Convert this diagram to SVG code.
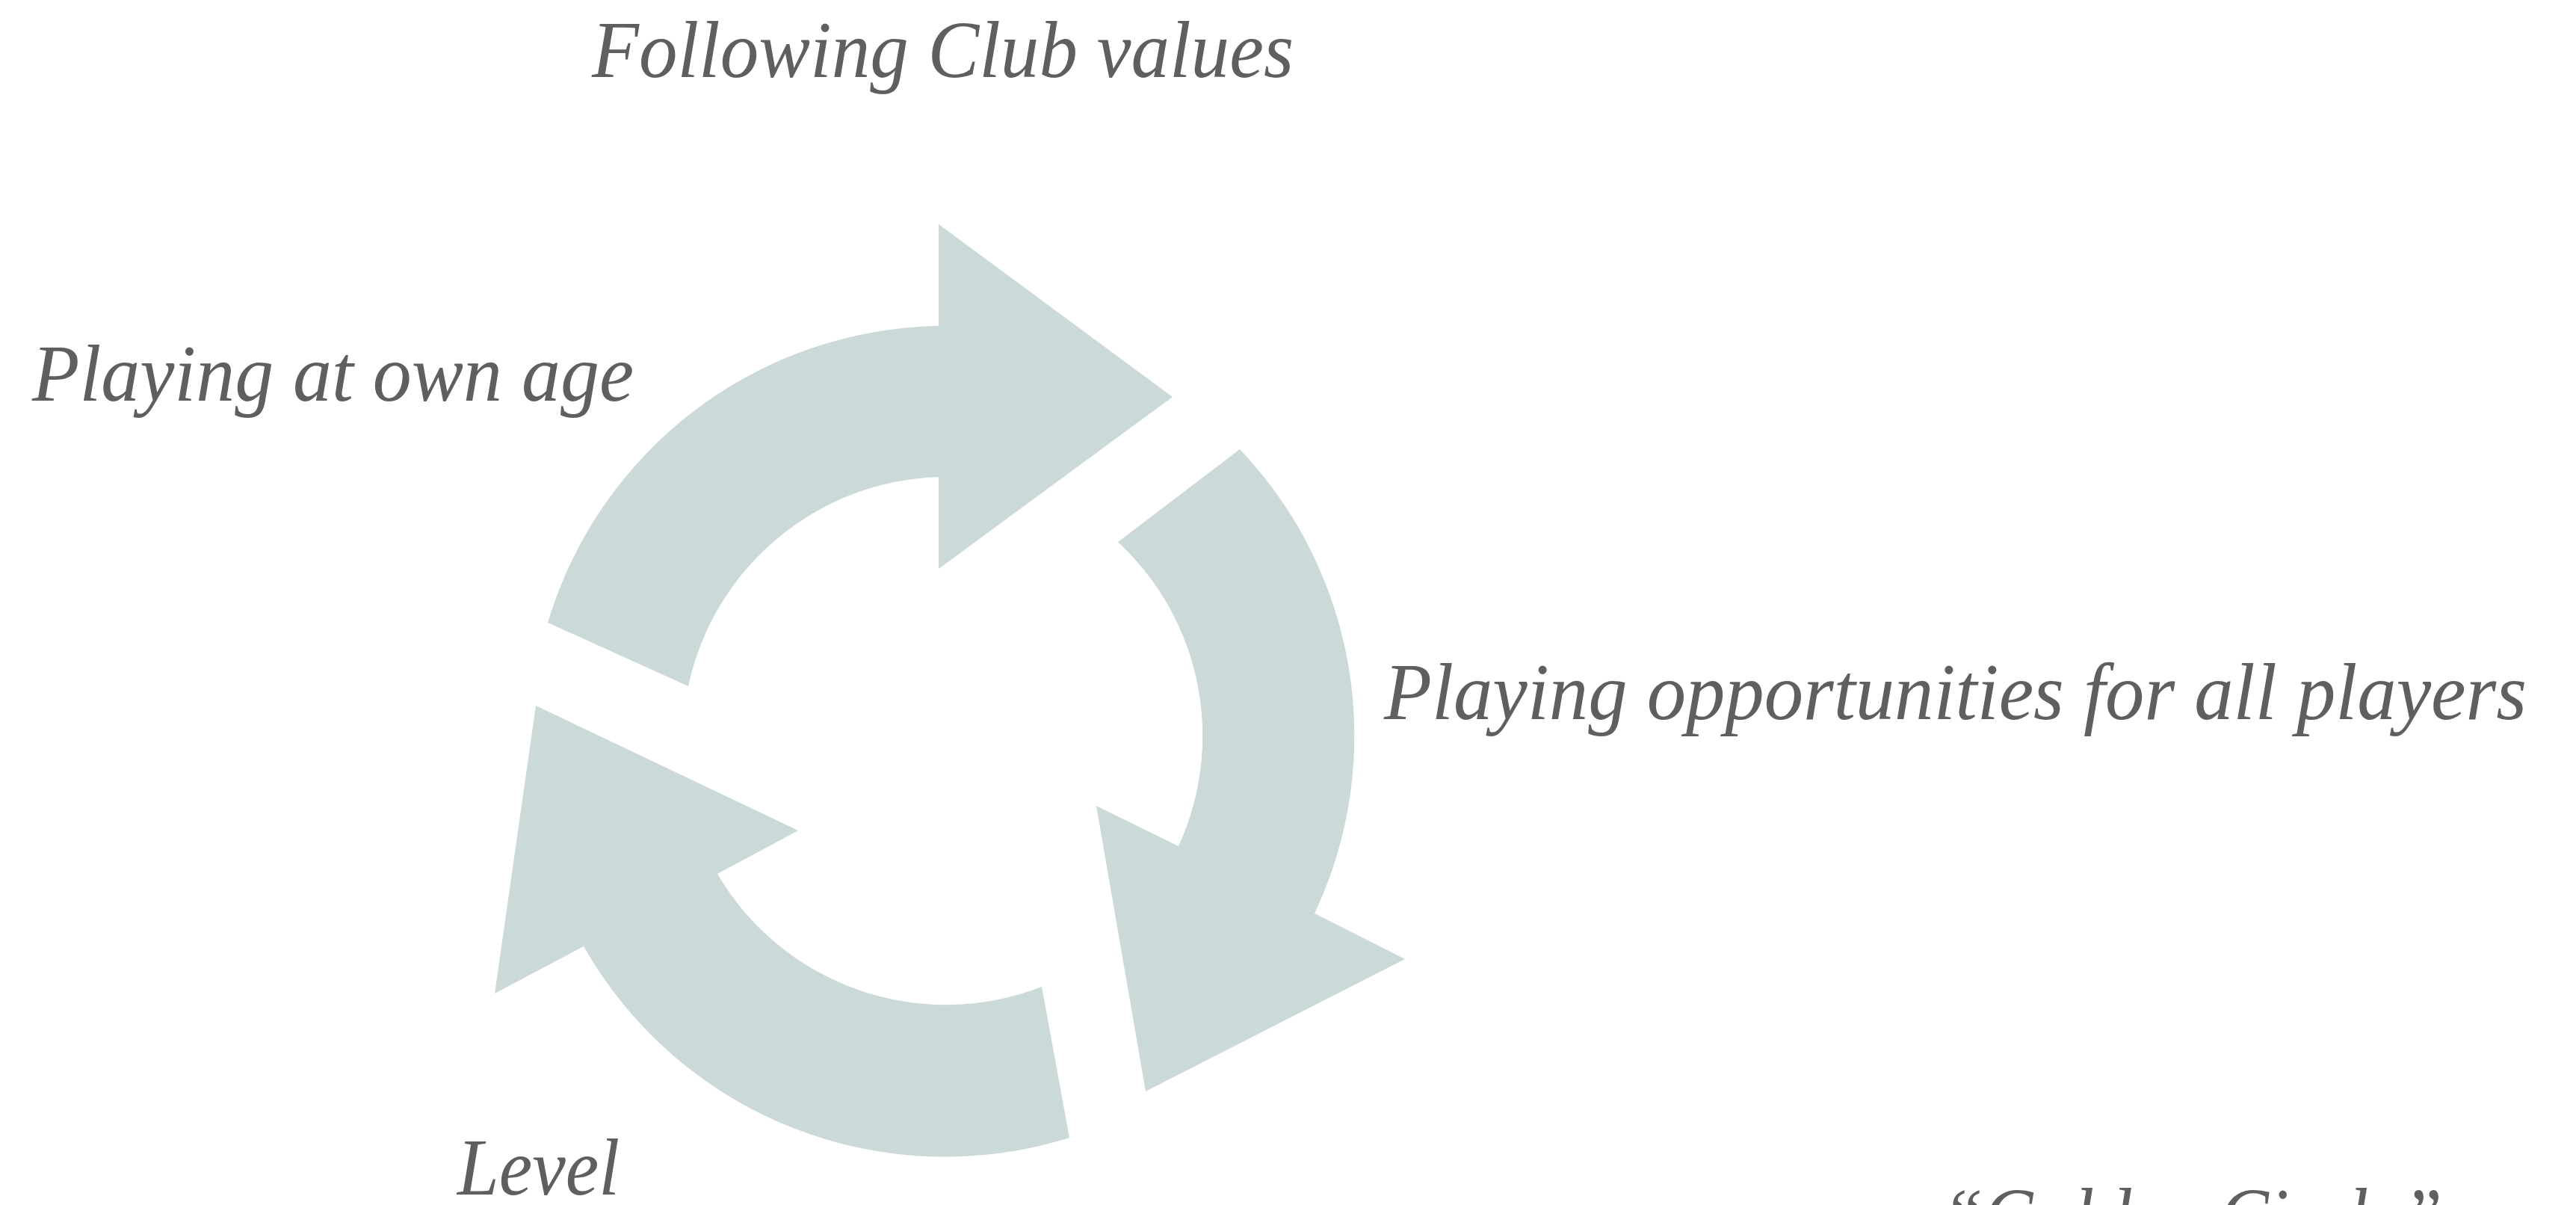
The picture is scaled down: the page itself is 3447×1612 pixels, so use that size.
<svg xmlns="http://www.w3.org/2000/svg" width="3447" height="1612" viewBox="0 0 3447 1612">
  <style>
    .arrow { fill: #cbd9d9; stroke: none; }
    .label { font-family: "Liberation Serif", "Times New Roman", serif; font-style: italic; font-size: 107px; fill: #5f5f5f; }
  </style>
  <rect x="0" y="0" width="3447" height="1612" fill="#ffffff"/>
  <g id="connectors">
    <path id="arrow-1" class="arrow" d="M 733 833 A 556 556 0 0 1 1256 436 L 1256 300 L 1569 531 L 1256 761 L 1256 638 A 354 354 0 0 0 921 918 Z"/>
    <path id="arrow-2" class="arrow" d="M 1659 601 A 556 556 0 0 1 1759 1222 L 1880 1283 L 1533 1460 L 1467 1078 L 1577 1132 A 354 354 0 0 0 1496 725 Z"/>
    <path id="arrow-3" class="arrow" d="M 1431 1522 A 556 556 0 0 1 781 1266 L 662 1329 L 717 944 L 1068 1111 L 960 1169 A 354 354 0 0 0 1394 1320 Z"/>
  </g>
  <g id="node-following-club-values">
    <text class="label" x="792" y="103" textLength="939" lengthAdjust="spacingAndGlyphs">Following Club values</text>
  </g>
  <g id="node-playing-at-own-age">
    <text class="label" x="43" y="536" textLength="805" lengthAdjust="spacingAndGlyphs">Playing at own age</text>
  </g>
  <g id="node-playing-opportunities">
    <text class="label" x="1852" y="962" textLength="1529" lengthAdjust="spacingAndGlyphs">Playing opportunities for all players</text>
  </g>
  <g id="node-level">
    <text class="label" x="612" y="1598" textLength="217" lengthAdjust="spacingAndGlyphs">Level</text>
  </g>
  <g id="node-golden-circle">
    <text class="label" x="2599" y="1664" textLength="669" lengthAdjust="spacingAndGlyphs">“Golden Circle”</text>
  </g>
</svg>
